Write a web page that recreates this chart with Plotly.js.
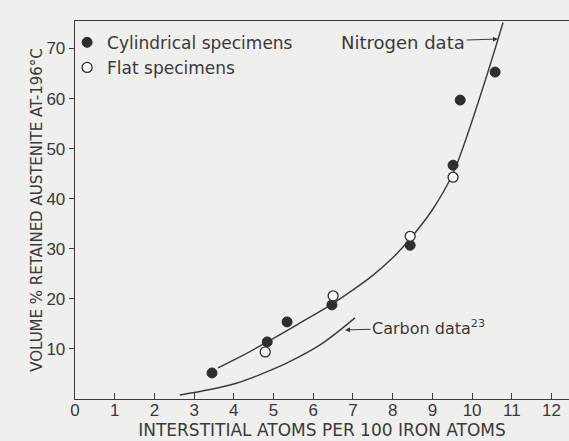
<!DOCTYPE html>
<html>
<head>
<meta charset="utf-8">
<script src="https://cdn.plot.ly/plotly-3.0.1.min.js"></script>
<style>html,body{margin:0;padding:0;background:#efefed;}#chart{width:569px;height:441px;}</style>
</head>
<body>
<div id="chart"></div>
<script>
// Measured points (interstitial atoms per 100 Fe atoms, vol % retained austenite)
const cylX = [3.45, 4.84, 5.34, 6.47, 8.44, 9.52, 9.70, 10.58];
const cylY = [5.2, 11.4, 15.4, 18.8, 30.7, 46.7, 59.7, 65.3];
const flatX = [4.79, 6.50, 8.44, 9.52];
const flatY = [9.4, 20.6, 32.5, 44.3];
// Curves
const nitroX = [3.6, 4.2, 4.84, 5.67, 6.42, 7.0, 7.5, 8.0, 8.44, 9.0, 9.52, 9.87, 10.37, 10.78];
const nitroY = [6.2, 8.6, 11.4, 15.2, 18.7, 21.8, 24.7, 28.2, 32.0, 37.8, 45.1, 52.5, 64.6, 75.2];
const carbonX = [2.64, 3.4, 4.08, 4.7, 5.34, 6.17, 7.05];
const carbonY = [0.8, 1.9, 3.2, 5.0, 7.2, 10.8, 16.2];
const xTicks = [0,1,2,3,4,5,6,7,8,9,10,11,12];
const yTicks = [10,20,30,40,50,60,70];

const ink = '#3a3a3a';
const tickFont = 'Liberation Sans, Arial, sans-serif';
const textFont = 'DejaVu Sans, sans-serif';

const traces = [
  {x: nitroX, y: nitroY, mode: 'lines', line: {color: ink, width: 1.4, shape: 'spline', smoothing: 1}, showlegend: false, hoverinfo: 'skip'},
  {x: carbonX, y: carbonY, mode: 'lines', line: {color: ink, width: 1.4, shape: 'spline', smoothing: 1}, showlegend: false, hoverinfo: 'skip'},
  {x: cylX, y: cylY, mode: 'markers', name: 'Cylindrical specimens', marker: {symbol: 'circle', size: 10, color: '#2e2e2e', line: {color: '#2e2e2e', width: 1}}},
  {x: flatX, y: flatY, mode: 'markers', name: 'Flat specimens', marker: {symbol: 'circle', size: 10, color: '#f7f7f5', line: {color: '#2e2e2e', width: 1.3}}}
];

const layout = {
  width: 569, height: 441,
  margin: {l: 75, r: 0, t: 21, b: 42},
  paper_bgcolor: '#efefed', plot_bgcolor: '#efefed',
  font: {family: textFont, color: ink, size: 16},
  showlegend: true,
  legend: {x: -0.016, y: 0.99, xanchor: 'left', yanchor: 'top', bgcolor: 'rgba(0,0,0,0)', font: {family: textFont, size: 17, color: ink}, itemwidth: 30, tracegroupgap: 0},
  xaxis: {
    range: [0, 12.44], tickvals: xTicks, ticktext: xTicks.map(String),
    ticks: 'inside', ticklen: 6, tickcolor: ink, showgrid: false, zeroline: false,
    showline: true, linecolor: ink, linewidth: 1.3, mirror: true,
    ticklabelstandoff: -5,
    tickfont: {family: tickFont, size: 17, color: ink},
    title: {text: 'INTERSTITIAL ATOMS PER 100 IRON ATOMS', font: {family: textFont, size: 17, color: ink}, standoff: 1}
  },
  yaxis: {
    range: [0, 75.5], tickvals: yTicks, ticktext: yTicks.map(String),
    ticks: 'outside', ticklen: 5, tickcolor: ink, showgrid: false, zeroline: false,
    showline: true, linecolor: ink, linewidth: 1.3,
    tickfont: {family: tickFont, size: 17, color: ink},
    title: {text: 'VOLUME % RETAINED AUSTENITE AT-196°C', font: {family: textFont, size: 15, color: ink}, standoff: 0}
  },
  annotations: [
    {x: 10.65, y: 71.9, ax: 8.26, ay: 71.3, axref: 'x', ayref: 'y', xref: 'x', yref: 'y',
     text: 'Nitrogen data', showarrow: true, arrowhead: 2, arrowsize: 1, arrowwidth: 1, arrowcolor: ink,
     font: {family: textFont, size: 18, color: ink}},
    {x: 6.8, y: 13.8, ax: 8.9, ay: 14.2, axref: 'x', ayref: 'y', xref: 'x', yref: 'y',
     text: 'Carbon data<sup>23</sup>', showarrow: true, arrowhead: 2, arrowsize: 1, arrowwidth: 1, arrowcolor: ink,
     font: {family: textFont, size: 16, color: ink}}
  ]
};

Plotly.newPlot('chart', traces, layout, {displayModeBar: false, staticPlot: true});
</script>
</body>
</html>
